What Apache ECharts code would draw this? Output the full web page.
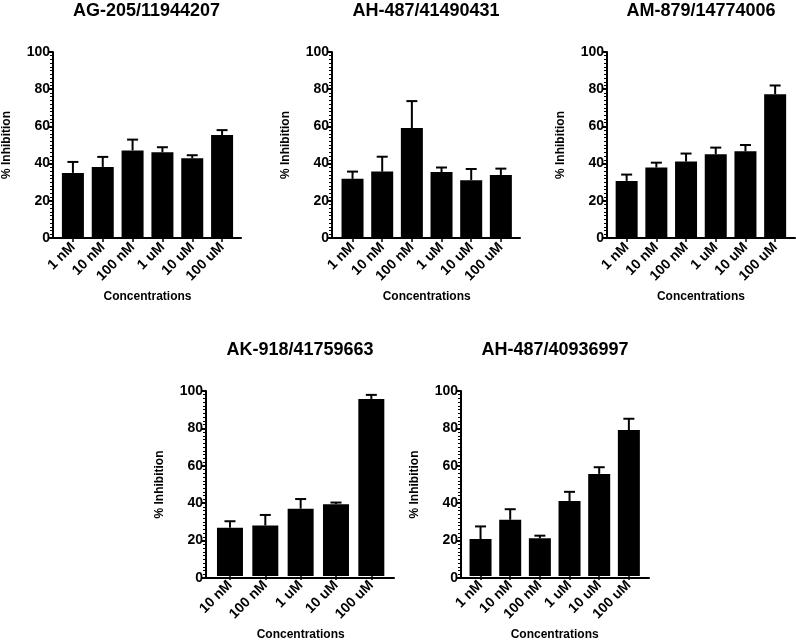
<!DOCTYPE html>
<html>
<head>
<meta charset="utf-8">
<script src="https://cdn.jsdelivr.net/npm/echarts@6/dist/echarts.min.js"></script>
<style>
  body { margin: 0; background: #fff; }
  #chart { width: 796px; height: 642px; }
</style>
</head>
<body>
<div id="chart"></div>
<script>
// compound names (panel titles)
const titles = ["AG-205/11944207", "AH-487/41490431", "AM-879/14774006", "AK-918/41759663", "AH-487/40936997"];

// concentrations
const concSix = ["1 nM", "10 nM", "100 nM", "1 uM", "10 uM", "100 uM"];
const concFive = ["10 nM", "100 nM", "1 uM", "10 uM", "100 uM"];

// % inhibition, mean and upper error
const ag205Mean = [35.0, 38.2, 47.1, 46.1, 42.9, 55.4];
const ag205Err = [5.9, 5.4, 5.8, 2.7, 1.6, 2.6];
const ah41490431Mean = [31.8, 35.7, 59.1, 35.5, 31.1, 33.9];
const ah41490431Err = [3.9, 8.0, 14.5, 2.4, 6.0, 3.4];
const am879Mean = [30.7, 37.9, 41.1, 45.0, 46.6, 77.3];
const am879Err = [3.4, 2.6, 4.3, 3.6, 3.4, 4.7];
const ak918Mean = [26.1, 27.3, 36.4, 38.8, 95.7];
const ak918Err = [3.5, 5.7, 5.2, 0.9, 2.2];
const ah40936997Mean = [20.0, 30.4, 20.4, 40.5, 55.2, 78.9];
const ah40936997Err = [6.8, 5.7, 1.4, 5.0, 3.6, 6.1];

const yTicks = [0, 20, 40, 60, 80, 100];

// panel placement: axis frame + bar area
const panels = [
  { cats: concSix, mean: ag205Mean, err: ag205Err, axisX: 52, axisEnd: 241, top: 52, bottom: 238, barLeft: 58, barW: 179, barWidth: 22 },
  { cats: concSix, mean: ah41490431Mean, err: ah41490431Err, axisX: 332, axisEnd: 520, top: 52, bottom: 238, barLeft: 337.7, barW: 178, barWidth: 22 },
  { cats: concSix, mean: am879Mean, err: am879Err, axisX: 607, axisEnd: 795, top: 52, bottom: 238, barLeft: 611.8, barW: 178.2, barWidth: 22 },
  { cats: concFive, mean: ak918Mean, err: ak918Err, axisX: 206, axisEnd: 394, top: 391, bottom: 578, barLeft: 212.3, barW: 176.7, barWidth: 26 },
  { cats: concSix, mean: ah40936997Mean, err: ah40936997Err, axisX: 461, axisEnd: 649, top: 391, bottom: 578, barLeft: 465.7, barW: 178, barWidth: 22 }
];

const font = "Liberation Sans";
const grid = [], xAxis = [], yAxis = [], series = [], title = [];

panels.forEach(function (p, i) {
  const h = p.bottom - p.top;
  // frame grid: y axis + full x axis line
  grid.push({ left: p.axisX, top: p.top, width: p.axisEnd - p.axisX, height: h });
  // bar grid
  grid.push({ left: p.barLeft, top: p.top, width: p.barW, height: h });

  title.push({
    text: titles[i],
    left: (p.axisX + p.axisEnd) / 2,
    top: p.top < 100 ? 2 : 341,
    textAlign: "center",
    padding: 0,
    textStyle: { fontFamily: font, fontWeight: "bold", fontSize: 18, color: "#000" }
  });

  xAxis.push({
    gridIndex: 2 * i, type: "value", min: 0, max: 1,
    axisLine: { show: true, lineStyle: { color: "#000", width: 2 } },
    axisTick: { show: false }, axisLabel: { show: false }, splitLine: { show: false }
  });
  xAxis.push({
    gridIndex: 2 * i + 1, type: "category", data: p.cats,
    axisLine: { show: false },
    axisTick: { show: true, alignWithLabel: true, length: 4, lineStyle: { color: "#000", width: 1.5 } },
    axisLabel: { rotate: 45, margin: 7, color: "#000", fontFamily: font, fontWeight: "bold", fontSize: 14 },
    name: "Concentrations", nameLocation: "middle", nameGap: 53,
    nameTextStyle: { color: "#000", fontFamily: font, fontWeight: "bold", fontSize: 12 }
  });

  yAxis.push({
    gridIndex: 2 * i, type: "value", min: yTicks[0], max: yTicks[yTicks.length - 1], interval: 20,
    axisLine: { show: true, lineStyle: { color: "#000", width: 2 } },
    axisTick: { show: true, length: 4, lineStyle: { color: "#000", width: 2 } },
    minorTick: { show: true, splitNumber: 10, length: 3, lineStyle: { color: "#000", width: 1 } },
    axisLabel: { margin: 3, color: "#000", fontFamily: font, fontWeight: "bold", fontSize: 14 },
    splitLine: { show: false },
    name: "% Inhibition", nameLocation: "middle", nameGap: 40,
    nameTextStyle: { color: "#000", fontFamily: font, fontWeight: "bold", fontSize: 12 }
  });
  yAxis.push({ gridIndex: 2 * i + 1, type: "value", min: 0, max: 100, show: false });

  series.push({
    type: "bar", xAxisIndex: 2 * i + 1, yAxisIndex: 2 * i + 1,
    data: p.mean, barWidth: p.barWidth,
    itemStyle: { color: "#000" }, silent: true
  });
  series.push({
    type: "custom", xAxisIndex: 2 * i + 1, yAxisIndex: 2 * i + 1, z: 3, silent: true,
    data: p.mean.map(function (m, k) { return [k, m, p.err[k]]; }),
    renderItem: function (params, api) {
      const base = api.coord([api.value(0), api.value(1)]);
      const tip = api.coord([api.value(0), api.value(1) + api.value(2)]);
      const half = 5.5;
      const st = { stroke: "#000", lineWidth: 2 };
      return {
        type: "group",
        children: [
          { type: "line", shape: { x1: base[0], y1: base[1], x2: tip[0], y2: tip[1] }, style: st },
          { type: "line", shape: { x1: tip[0] - half, y1: tip[1], x2: tip[0] + half, y2: tip[1] }, style: st }
        ]
      };
    }
  });
});

const chart = echarts.init(document.getElementById("chart"));
chart.setOption({
  animation: false,
  backgroundColor: "#fff",
  title: title,
  grid: grid,
  xAxis: xAxis,
  yAxis: yAxis,
  series: series
});
</script>
</body>
</html>
